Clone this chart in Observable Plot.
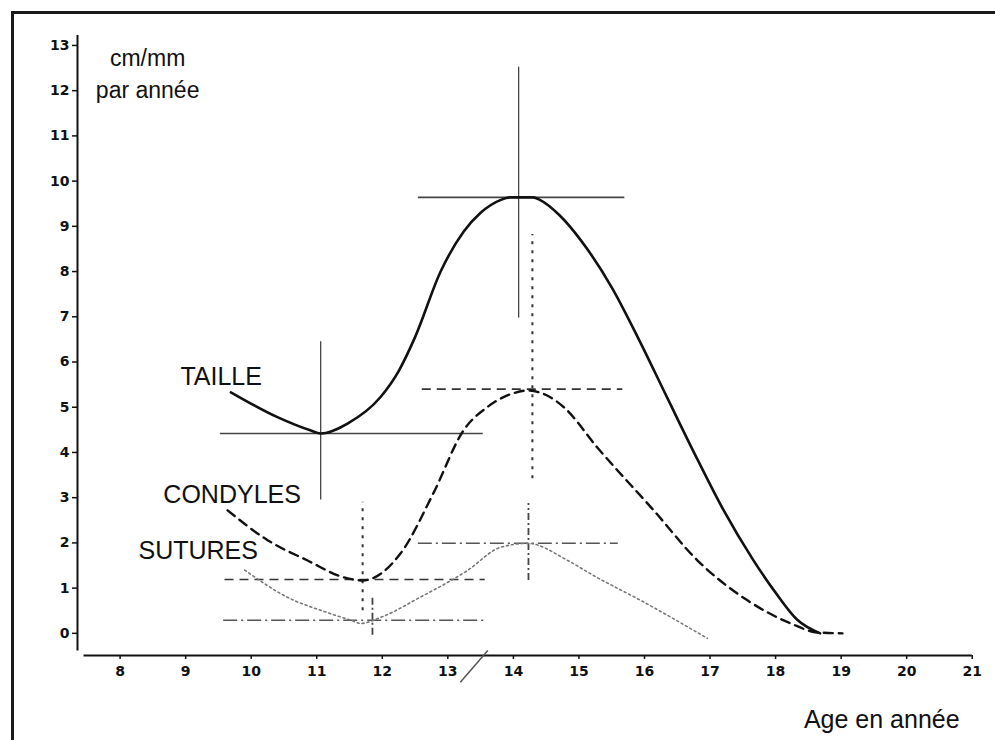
<!DOCTYPE html>
<html>
<head>
<meta charset="utf-8">
<script src="https://cdn.jsdelivr.net/npm/d3@7"></script>
<script src="https://cdn.jsdelivr.net/npm/@observablehq/plot@0.6"></script>
<style>
  html, body { margin: 0; padding: 0; background: #fff; overflow: hidden; }
  #frame { position: absolute; left: 11px; top: 11px; width: 1000px; height: 800px;
           border-top: 3px solid #1a1a1a; border-left: 3px solid #1a1a1a; z-index: 2; pointer-events: none; }
  #chart { position: absolute; left: 0; top: 0; }
</style>
</head>
<body>
<div id="frame"></div>
<div id="chart"></div>
<script>
// ---- data (age in years, growth per year) ----
const xTicks = [8, 9, 10, 11, 12, 13, 14, 15, 16, 17, 18, 19, 20, 21];
const yTicks = [0, 1, 2, 3, 4, 5, 6, 7, 8, 9, 10, 11, 12, 13];
const xDomain = [7.35, 21.05];
const yDomain = [-0.49, 13.22];

const taille = [[9.69,5.33],[10.4,4.78],[10.9,4.49],[11.06,4.42],[11.47,4.64],[11.97,5.22],[12.25,5.8],[12.5,6.55],[12.89,8.0],[13.24,8.88],[13.5,9.3],[13.8,9.58],[13.95,9.64],[14.3,9.64],[14.41,9.58],[14.7,9.25],[15.03,8.69],[15.5,7.65],[15.9,6.54],[16.35,5.2],[16.81,3.84],[17.2,2.74],[17.66,1.62],[18.0,0.9],[18.33,0.3],[18.68,0.0]];
const condyles = [[9.64,2.72],[10.25,2.06],[10.86,1.61],[11.41,1.24],[11.7,1.17],[12.28,1.77],[12.78,3.1],[13.24,4.49],[13.6,5.0],[14.0,5.31],[14.22,5.37],[14.5,5.27],[14.77,5.0],[15.28,4.11],[16.14,2.72],[16.81,1.61],[17.57,0.73],[18.23,0.22],[18.64,0.02],[19.02,0.0]];
const sutures = [[9.9,1.4],[10.55,0.8],[11.16,0.46],[11.52,0.29],[11.67,0.22],[11.97,0.35],[12.58,0.8],[13.3,1.39],[13.8,1.9],[14.22,1.99],[14.83,1.61],[15.22,1.28],[15.94,0.73],[16.96,-0.11]];

// error bars: vertical (age, lo, hi) and horizontal (val, from, to)
const tailleV = [{x:11.06, lo:2.95, hi:6.45}, {x:14.08, lo:6.97, hi:12.52}];
const tailleH = [{y:4.42, from:9.53, to:13.54}, {y:9.64, from:12.55, to:15.70}];
const condylesV = [{x:11.70, lo:0.5, hi:2.9}, {x:14.29, lo:3.42, hi:8.82}];
const condylesH = [{y:1.19, from:9.6, to:13.57}, {y:5.4, from:12.61, to:15.67}];
const suturesV = [{x:11.85, lo:-0.04, hi:0.84}, {x:14.23, lo:1.17, hi:2.87}];
const suturesH = [{y:0.29, from:9.58, to:13.57}, {y:1.99, from:12.55, to:15.6}];

const seriesLabels = [
  {x:8.92, y:5.66, text:"TAILLE"},
  {x:8.66, y:3.05, text:"CONDYLES"},
  {x:8.28, y:1.81, text:"SUTURES"}
];
const unitLabel = [{x:8.42, y:12.42, text:"cm/mm\npar année"}];
const xTitle = [{x:19.62, y:-1.92, text:"Age en année"}];
const breakMark = [{x1:13.19, y1:-1.08, x2:13.61, y2:-0.38}];

const toObj = a => a.map(([x, y]) => ({x, y}));

const chart = Plot.plot({
  width: 995,
  height: 740,
  marginLeft: 77,
  marginRight: 20,
  marginTop: 35,
  marginBottom: 85,
  style: {background: "transparent", fontFamily: "Liberation Sans, Arial, sans-serif", color: "#111"},
  x: {domain: xDomain},
  y: {domain: yDomain},
  marks: [
    // axis lines
    Plot.ruleX([xDomain[0]], {y1: yDomain[0] + 0.1, y2: yDomain[1], stroke: "#111", strokeWidth: 2}),
    Plot.ruleY([yDomain[0]], {x1: xDomain[0] + 0.1, x2: xTicks[xTicks.length - 1], stroke: "#111", strokeWidth: 2}),
    Plot.axisX({ticks: xTicks, tickSize: 4, tickPadding: 7, fontSize: 14, fontWeight: "bold",
      fontFamily: "DejaVu Sans", label: null, strokeWidth: 1.5}),
    Plot.axisY({ticks: yTicks, tickSize: 5, tickPadding: 3, fontSize: 14, fontWeight: "bold",
      fontFamily: "DejaVu Sans", label: null, strokeWidth: 1.5}),
    Plot.link(breakMark, {x1: "x1", y1: "y1", x2: "x2", y2: "y2", stroke: "#555", strokeWidth: 1.5}),

    // TAILLE error bars
    Plot.ruleX(tailleV, {x: "x", y1: "lo", y2: "hi", stroke: "#444", strokeWidth: 1.3}),
    Plot.ruleY(tailleH, {y: "y", x1: "from", x2: "to", stroke: "#444", strokeWidth: 1.6}),
    // CONDYLES error bars
    Plot.ruleX(condylesV, {x: "x", y1: "lo", y2: "hi", stroke: "#333", strokeWidth: 2, strokeDasharray: "3,6"}),
    Plot.ruleY(condylesH, {y: "y", x1: "from", x2: "to", stroke: "#333", strokeWidth: 1.6, strokeDasharray: "9,6"}),
    // SUTURES error bars
    Plot.ruleX(suturesV, {x: "x", y1: "lo", y2: "hi", stroke: "#444", strokeWidth: 1.8, strokeDasharray: "7,3,2,3"}),
    Plot.ruleY(suturesH, {y: "y", x1: "from", x2: "to", stroke: "#555", strokeWidth: 1.5, strokeDasharray: "14,4,2,4"}),

    // curves
    Plot.line(toObj(sutures), {x: "x", y: "y", curve: "monotone-x", stroke: "#777", strokeWidth: 1.6, strokeDasharray: "2,3"}),
    Plot.line(toObj(condyles), {x: "x", y: "y", curve: "monotone-x", stroke: "#111", strokeWidth: 2.4, strokeDasharray: "9,6"}),
    Plot.line(toObj(taille), {x: "x", y: "y", curve: "monotone-x", stroke: "#111", strokeWidth: 2.6}),

    // labels
    Plot.text(seriesLabels, {x: "x", y: "y", text: "text", textAnchor: "start", fontSize: 25, fill: "#111"}),
    Plot.text(unitLabel, {x: "x", y: "y", text: "text", textAnchor: "middle", fontSize: 23, lineHeight: 1.4, fill: "#111"}),
    Plot.text(xTitle, {x: "x", y: "y", text: "text", textAnchor: "middle", fontSize: 25, fill: "#111"})
  ]
});
document.getElementById("chart").appendChild(chart);
</script>
</body>
</html>
